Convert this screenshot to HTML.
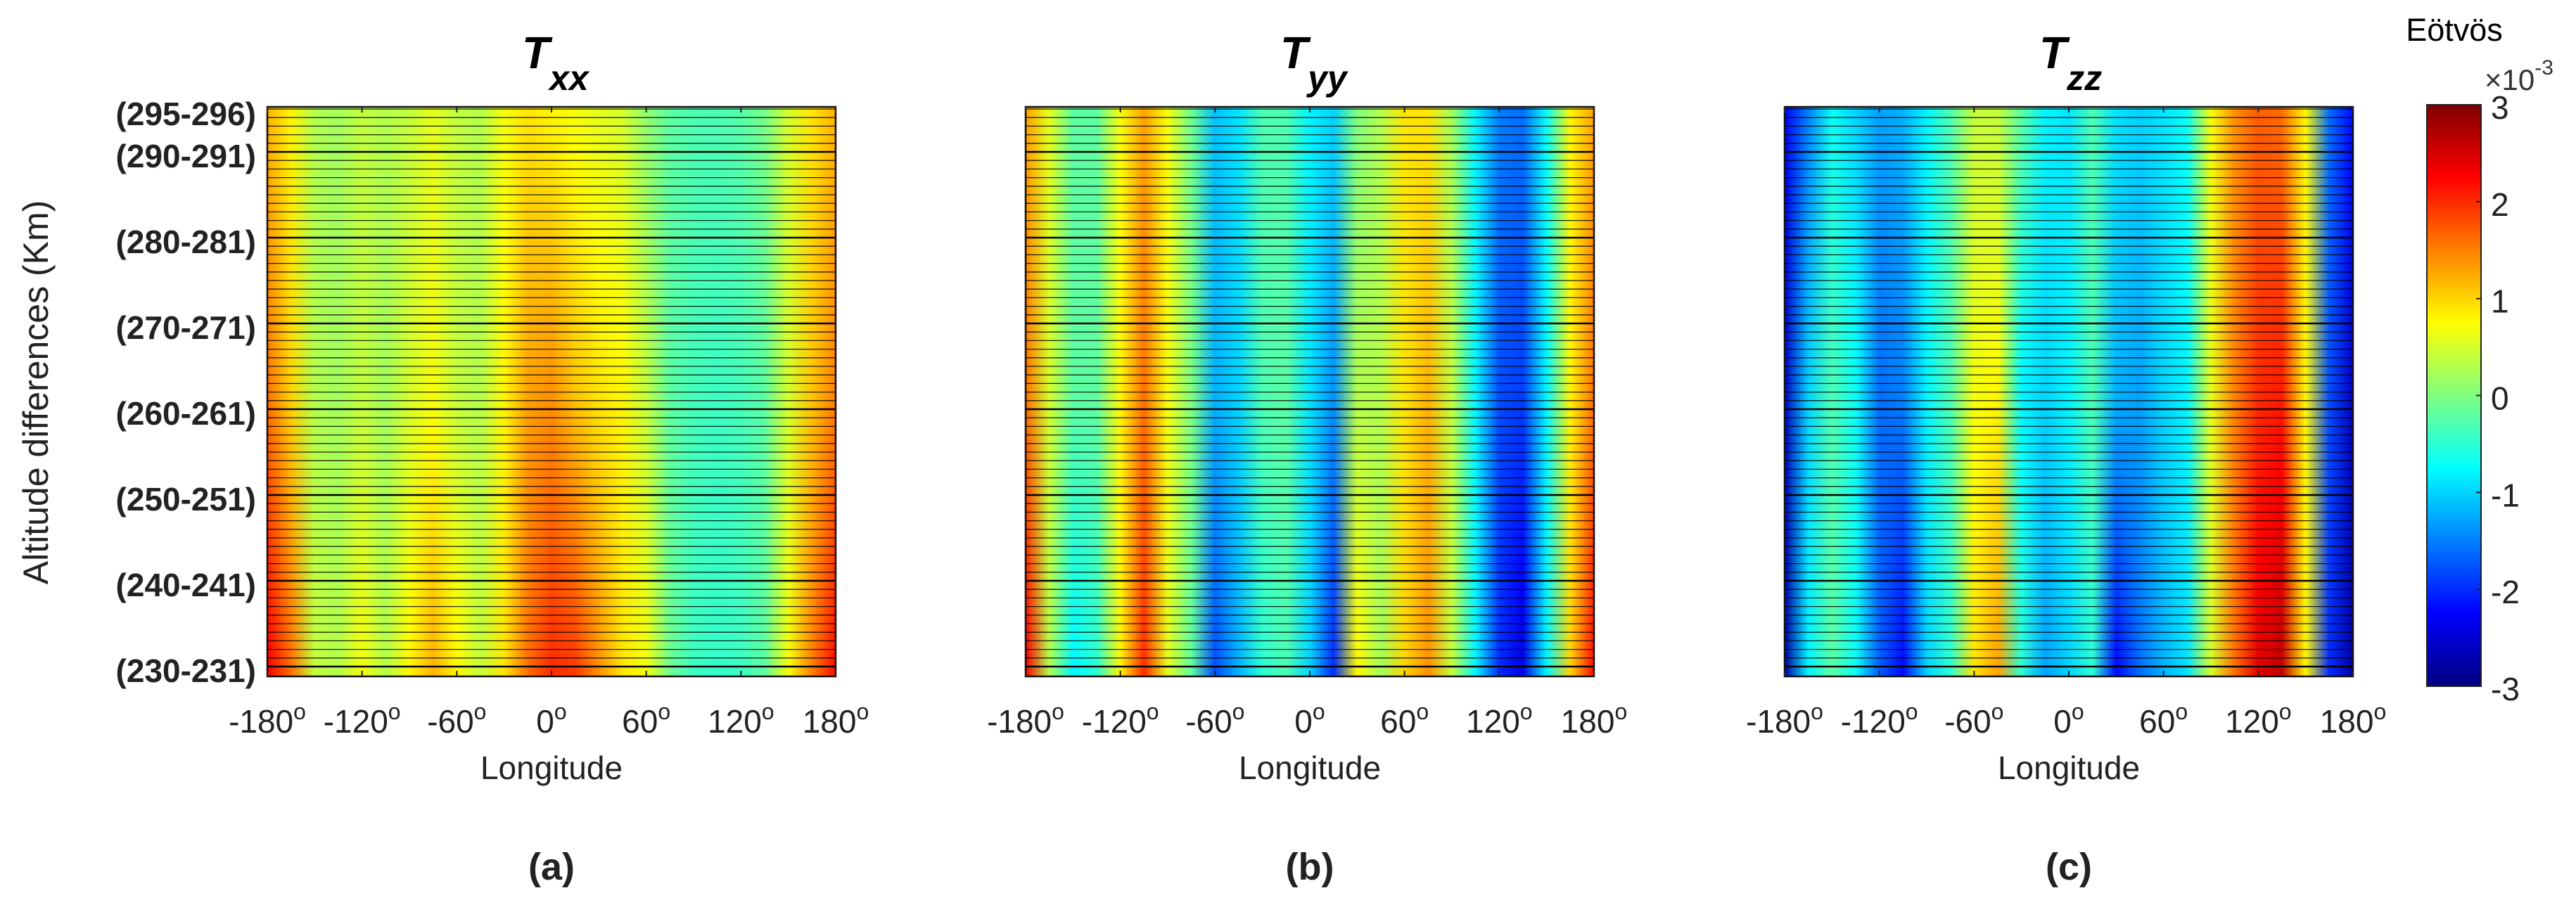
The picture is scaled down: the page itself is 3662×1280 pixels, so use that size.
<!DOCTYPE html>
<html><head><meta charset="utf-8">
<style>
html,body{margin:0;padding:0;background:#fff;}
svg{display:block;font-family:"Liberation Sans",Arial,sans-serif;}
</style></head>
<body>
<svg id="fig" width="3662" height="1280" viewBox="0 0 3662 1280" xmlns="http://www.w3.org/2000/svg">
<defs id="defs"></defs>
<g id="root"></g>
</svg>
<script>
// ---- data (Eötvös ×1e-3), columns at longitudes below; rows: bottom (230), middle (262), top (295)
const lons = [-180,-165,-150,-135,-120,-105,-90,-75,-60,-45,-30,-15,0,15,30,45,60,75,90,105,120,135,150,165,180];
const altLabels = ["(230-231)","(240-241)","(250-251)","(260-261)","(270-271)","(280-281)","(290-291)","(295-296)"];
const altLabelRows = [0,10,20,30,40,50,60,65];
const xTicks = [-180,-120,-60,0,60,120,180];
const cbTicks = [3,2,1,0,-1,-2,-3];
const nRows = 66;
const txxBottom = [2.3,1.6,0.4,0.3,0.7,0.3,0.8,1.2,0.8,0.4,0.9,1.6,2.0,1.9,1.4,0.9,0.7,-0.1,-0.4,-0.45,-0.4,-0.2,0.7,1.5,2.2];
const txxMid    = [1.6,1.0,0.3,0.2,0.4,0.2,0.5,0.7,0.4,0.3,0.8,1.3,1.4,1.1,0.9,0.8,0.4,-0.2,-0.35,-0.4,-0.35,-0.2,0.5,1.1,1.5];
const txxTop    = [1.2,0.8,0.3,0.2,0.4,0.3,0.4,0.6,0.4,0.3,0.7,0.9,0.8,0.7,0.6,0.5,0.1,-0.2,-0.3,-0.3,-0.25,-0.05,0.5,0.9,1.2];
const tyyBottom = [2.3,0.3,-0.8,-0.5,0.8,2.0,0.6,-0.2,-1.8,-1.2,-0.5,-0.3,-1.0,-2.0,0.8,0.2,1.0,1.4,0.4,-0.8,-2.0,-2.4,-0.8,1.0,2.2];
const tyyMid    = [1.6,0.5,-0.2,-0.2,0.8,1.6,0.7,0.0,-1.2,-1.0,-0.3,-0.2,-0.9,-1.4,0.3,0.3,0.9,1.2,0.4,-0.8,-1.8,-1.9,-0.8,0.8,1.6];
const tyyTop    = [1.3,0.6,-0.2,-0.2,0.7,1.3,0.7,-0.1,-1.1,-0.9,-0.3,-0.3,-0.8,-1.0,0.0,0.3,0.9,0.9,0.2,-0.8,-1.5,-1.6,-0.7,0.8,1.3];
const tzzBottom = [-2.8,-0.8,-0.2,-0.7,-1.7,-2.2,-1.0,-0.5,0.9,1.3,-0.5,-1.3,-1.0,-0.5,-2.2,-1.6,-1.2,-0.9,0.5,1.6,2.4,2.6,0.8,-2.0,-2.8];
const tzzMid    = [-2.6,-1.0,-0.3,-0.7,-1.6,-1.5,-0.8,-0.3,0.7,0.8,-0.8,-1.0,-0.8,-0.3,-1.2,-1.3,-1.0,-0.8,0.6,1.5,2.0,2.1,0.8,-1.8,-2.6];
const tzzTop    = [-2.3,-1.5,-0.7,-1.0,-1.3,-1.2,-0.8,-0.3,0.4,0.4,-0.2,-0.8,-0.9,-0.3,-0.9,-1.0,-0.9,-0.7,0.7,1.4,1.7,1.6,0.8,-1.6,-2.2];

const NS="http://www.w3.org/2000/svg";
const root=document.getElementById('root');
const defs=document.getElementById('defs');
function mk(tag,attrs,parent){const e=document.createElementNS(NS,tag);for(const k in attrs)e.setAttribute(k,attrs[k]);(parent||root).appendChild(e);return e;}
function jet(v){let t=(v+3)/6;t=Math.max(0,Math.min(1,t));
 const f=x=>Math.max(0,Math.min(1,x));
 const r=f(Math.min(4*t-1.5,-4*t+4.5)),g=f(Math.min(4*t-0.5,-4*t+3.5)),b=f(Math.min(4*t+0.5,-4*t+2.5));
 return `rgb(${Math.round(r*255)},${Math.round(g*255)},${Math.round(b*255)})`;}

const PT=152,PB=962,PW=808;
const lineY0=948,lineStep=12.2;
function yRow(k){return lineY0-k*lineStep;}

const panels=[
 {name:'txx',left:380,sub:'xx',letter:'(a)',bot:txxBottom,mid:txxMid,top:txxTop},
 {name:'tyy',left:1458,sub:'yy',letter:'(b)',bot:tyyBottom,mid:tyyMid,top:tyyTop},
 {name:'tzz',left:2537,sub:'zz',letter:'(c)',bot:tzzBottom,mid:tzzMid,top:tzzTop}
];

panels.forEach((p,pi)=>{
 const xs=lon=>p.left+(lon+180)/360*PW;
 const g=mk('g',{});
 
 
 const clipId='clip'+pi;
 const cp=mk('clipPath',{id:clipId},defs);
 mk('rect',{x:p.left,y:PT,width:PW,height:PB-PT},cp);
 const hm=mk('g',{'clip-path':`url(#${clipId})`},g);
 
 
 const midK=32;
 for(let k=0;k<nRows;k++){
  let vals;
  if(k<=midK){const a=k/midK;vals=p.bot.map((v,i)=>v*(1-a)+p.mid[i]*a);}
  else{const a=(k-midK)/(nRows-1-midK);vals=p.mid.map((v,i)=>v*(1-a)+p.top[i]*a);}
  const gid=`g${pi}_${k}`;
  const lg=mk('linearGradient',{id:gid,x1:xs(lons[0]),x2:xs(lons[lons.length-1]),y1:0,y2:0,gradientUnits:'userSpaceOnUse'},defs);
  vals.forEach((v,i)=>{mk('stop',{offset:((lons[i]+180)/360).toFixed(4),'stop-color':jet(v)},lg);});
  const yc=yRow(k);
  const y1=k===0?PB:yc+lineStep/2, y2=k===nRows-1?PT:yc-lineStep/2;
  const r=mk('rect',{x:p.left,y:y2,width:PW,height:y1-y2+0.6,fill:`url(#${gid})`},hm);
  
  
 }
 for(let k=0;k<nRows;k++){
  const yc=yRow(k);
  const l=mk('line',{x1:p.left,x2:p.left+PW,y1:yc,y2:yc,stroke:'#000','stroke-width':(k%10===0)?2.4:1.3,'stroke-opacity':(k%10===0)?1:0.85},hm);
  
  
 }
 const fr=mk('rect',{x:p.left,y:PT,width:PW,height:PB-PT,fill:'none',stroke:'#111','stroke-width':2.5},g);
 
 
 xTicks.forEach(t=>{
  const x=xs(t);
  mk('line',{x1:x,x2:x,y1:PB,y2:PB-8,stroke:'#222','stroke-width':2},g);
  mk('line',{x1:x,x2:x,y1:PT,y2:PT+8,stroke:'#222','stroke-width':2},g);
  const tx=mk('text',{x:x,y:1042,'font-size':46,'text-anchor':'middle',fill:'#222'},g);
  
  
  tx.textContent=String(t);
  const o=mk('tspan',{'font-size':32,dy:-19},tx);o.textContent='o';
 });
 const xl=mk('text',{x:p.left+PW/2,y:1108,'font-size':46,'text-anchor':'middle',fill:'#222'},g);
 
 
 xl.textContent='Longitude';
 const tt=mk('text',{x:p.left+PW/2-42,y:97,'font-size':64,'font-weight':'bold','font-style':'italic',fill:'#000'},g);
 
 
 tt.textContent='T';
 const sb=mk('tspan',{'font-size':50,dy:31},tt);sb.textContent=p.sub;
 const lt=mk('text',{x:p.left+PW/2,y:1251,'font-size':54,'font-weight':'bold','text-anchor':'middle',fill:'#222'},g);
 
 
 lt.textContent=p.letter;
});

// y labels
altLabels.forEach((s,i)=>{
 let y=yRow(altLabelRows[i])+6; if(i===altLabels.length-1)y=162;
 const t=mk('text',{x:364,y:y+16,'font-size':46,'font-weight':'bold','text-anchor':'end',fill:'#222'});
 
 
 t.textContent=s;
});
const yt=mk('text',{x:68,y:558,'font-size':50,'text-anchor':'middle',fill:'#222',transform:'rotate(-90 68 558)'});


yt.textContent='Altitude differences (Km)';

// colorbar
const CX=3450,CW=77,CT=149,CB=976;
const cbY=v=>CB-(v+3)/6*(CB-CT);
const cg=mk('linearGradient',{id:'cbg',x1:0,y1:CB,x2:0,y2:CT,gradientUnits:'userSpaceOnUse'},defs);
for(let i=0;i<=24;i++){const v=-3+i*0.25;mk('stop',{offset:(i/24).toFixed(4),'stop-color':jet(v)},cg);}
const cb=mk('rect',{x:CX,y:CT,width:CW,height:CB-CT,fill:'url(#cbg)',stroke:'#222','stroke-width':2});


cbTicks.forEach(v=>{
 const y=cbY(v);
 mk('line',{x1:CX+CW-7,x2:CX+CW,y1:y,y2:y,stroke:'#222','stroke-width':2});
 const t=mk('text',{x:3541,y:y+20,'font-size':46,fill:'#222'});
 
 
 t.textContent=String(v);
});
const et=mk('text',{x:3489,y:58,'font-size':45,'text-anchor':'middle',fill:'#000'});


et.textContent='Eötvös';
const ex=mk('text',{x:3532,y:128,'font-size':42,fill:'#333'});


ex.textContent='×10';
const es=mk('tspan',{'font-size':30,dy:-22},ex);es.textContent='-3';
</script>
</body></html>
